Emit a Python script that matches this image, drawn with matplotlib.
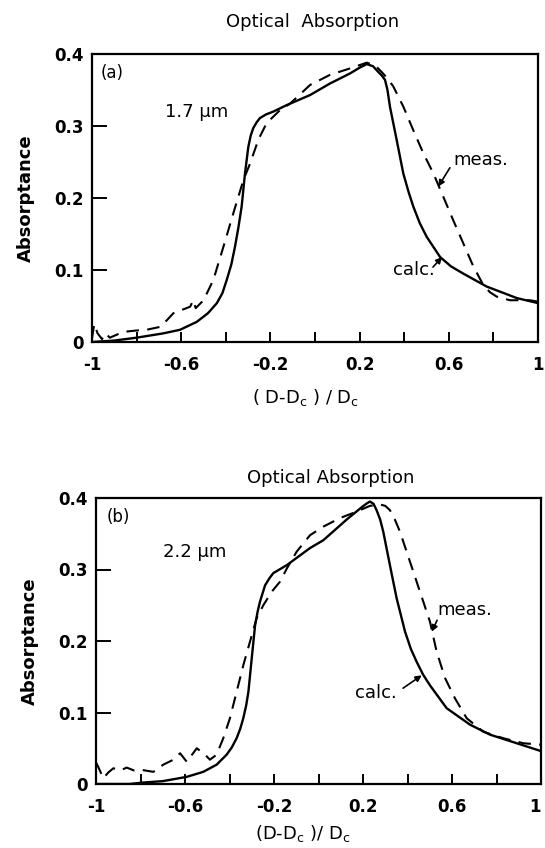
import matplotlib
matplotlib.use('Agg')
import matplotlib.pyplot as plt

plt.rcParams['font.family'] = ['DejaVu Sans']
plt.rcParams['mathtext.default'] = 'regular'

# x ticks and labels (both panels)
x_ticks = [-1.0, -0.8, -0.6, -0.4, -0.2, 0.0, 0.2, 0.4, 0.6, 0.8, 1.0]
x_labels = ['-1', '', '-0.6', '', '-0.2', '', '0.2', '', '0.6', '', '1']
y_ticks = [0.0, 0.1, 0.2, 0.3, 0.4]
y_labels = ['0', '0.1', '0.2', '0.3', '0.4']

# panel (a) 1.7 um
calc_a_x = [-1.0, -0.9, -0.8, -0.68, -0.605, -0.53, -0.48, -0.44, -0.415, -0.396, -0.375, -0.359,
            -0.343, -0.329, -0.314, -0.299, -0.288, -0.277, -0.262, -0.247, -0.22, -0.187, -0.127,
            -0.022, 0.067, 0.157, 0.2, 0.232, 0.26, 0.284, 0.3, 0.314, 0.325, 0.336, 0.366,
            0.396, 0.42, 0.441, 0.47, 0.501, 0.561, 0.61, 0.665, 0.77, 0.905, 1.0]
calc_a_y = [0.0, 0.002, 0.006, 0.012, 0.017, 0.028, 0.040, 0.054, 0.068, 0.086, 0.108, 0.132,
            0.160, 0.188, 0.234, 0.271, 0.287, 0.297, 0.305, 0.311, 0.316, 0.320, 0.329,
            0.343, 0.359, 0.373, 0.381, 0.386, 0.383, 0.375, 0.370, 0.364, 0.350, 0.327, 0.281,
            0.234, 0.208, 0.188, 0.165, 0.146, 0.118, 0.105, 0.095, 0.077, 0.061, 0.054]
meas_a_x = [-1.0, -0.99, -0.975, -0.955, -0.94, -0.92, -0.89, -0.86, -0.80, -0.755, -0.695, -0.665,
            -0.635, -0.56, -0.546, -0.535, -0.50, -0.456, -0.411, -0.366, -0.321, -0.291, -0.254,
            -0.217, -0.157, -0.112, -0.022, 0.067, 0.157, 0.232, 0.27, 0.299, 0.325, 0.351, 0.396,
            0.441, 0.486, 0.531, 0.575, 0.62, 0.665, 0.71, 0.755, 0.785, 0.815, 0.874, 0.964, 1.0]
meas_a_y = [0.005, 0.025, 0.012, 0.004, 0.012, 0.006, 0.010, 0.014, 0.016, 0.017, 0.021, 0.030,
            0.040, 0.049, 0.058, 0.047, 0.058, 0.086, 0.132, 0.179, 0.225, 0.248, 0.281,
            0.304, 0.322, 0.331, 0.357, 0.371, 0.380, 0.388, 0.384, 0.375, 0.366, 0.355, 0.327,
            0.294, 0.262, 0.234, 0.202, 0.169, 0.137, 0.105, 0.079, 0.069, 0.063, 0.058, 0.058, 0.056]

# panel (b) 2.2 um
calc_b_x = [-1.0, -0.85, -0.79, -0.70, -0.592, -0.518, -0.458, -0.413, -0.39, -0.368, -0.352, -0.338,
            -0.325, -0.315, -0.30, -0.285, -0.273, -0.263, -0.25, -0.24, -0.22, -0.203, -0.143,
            -0.038, 0.022, 0.127, 0.194, 0.215, 0.231, 0.247, 0.261, 0.277, 0.291, 0.321, 0.351,
            0.389, 0.415, 0.441, 0.47, 0.501, 0.576, 0.681, 0.771, 0.891, 1.0]
calc_b_y = [0.0, 0.0, 0.002, 0.004, 0.010, 0.017, 0.027, 0.041, 0.051, 0.064, 0.077, 0.092,
            0.110, 0.129, 0.176, 0.222, 0.242, 0.255, 0.268, 0.278, 0.288, 0.295, 0.306,
            0.330, 0.341, 0.370, 0.387, 0.392, 0.395, 0.392, 0.383, 0.370, 0.353, 0.306, 0.260,
            0.213, 0.189, 0.171, 0.153, 0.138, 0.106, 0.083, 0.069, 0.057, 0.046]
meas_b_x = [-1.0, -0.99, -0.967, -0.945, -0.922, -0.89, -0.862, -0.83, -0.80, -0.742, -0.698, -0.652,
            -0.622, -0.592, -0.547, -0.51, -0.488, -0.458, -0.428, -0.398, -0.368, -0.338, -0.308,
            -0.278, -0.248, -0.21, -0.173, -0.143, -0.098, -0.038, 0.022, 0.097, 0.172, 0.231, 0.276,
            0.3, 0.321, 0.343, 0.366, 0.411, 0.456, 0.501, 0.531, 0.569, 0.613, 0.666, 0.741, 0.831,
            0.921, 1.0]
meas_b_y = [0.030, 0.024, 0.008, 0.016, 0.022, 0.019, 0.023, 0.019, 0.020, 0.017, 0.027, 0.034,
            0.043, 0.031, 0.050, 0.041, 0.034, 0.041, 0.064, 0.092, 0.129, 0.166, 0.199,
            0.232, 0.250, 0.269, 0.283, 0.301, 0.325, 0.348, 0.360, 0.372, 0.381, 0.389, 0.391,
            0.389, 0.383, 0.370, 0.353, 0.311, 0.269, 0.227, 0.185, 0.148, 0.120, 0.092, 0.073, 0.064,
            0.057, 0.055]

W, H = 545, 848
fig = plt.figure(figsize=(W / 100, H / 100), dpi=100)

def px_rect(l, t, r, b):
    return [l / W, 1 - b / H, (r - l) / W, (b - t) / H]

ax_a = fig.add_axes(px_rect(92, 54, 538, 342))
ax_b = fig.add_axes(px_rect(96, 498, 541, 784))

panels = [
    (ax_a, calc_a_x, calc_a_y, meas_a_x, meas_a_y, '(a)', '1.7 μm', (-0.96, 0.373), (-0.673, 0.319),
     (0.62, 0.253), (0.605, 0.242), (0.553, 0.216),
     (0.35, 0.10), (0.529, 0.104), (0.57, 0.118)),
    (ax_b, calc_b_x, calc_b_y, meas_b_x, meas_b_y, '(b)', '2.2 μm', (-0.95, 0.374), (-0.699, 0.325),
     (0.533, 0.243), (0.533, 0.229), (0.509, 0.213),
     (0.164, 0.127), (0.38, 0.134), (0.464, 0.152)),
]

for (ax, cx, cy, mx, my, tag, wl, tag_xy, wl_xy,
     meas_xy, meas_tail, meas_head, calc_xy, calc_tail, calc_head) in panels:
    ax.plot(cx, cy, color='black', lw=1.7, solid_joinstyle='round')
    ax.plot(mx, my, color='black', lw=1.5, dashes=(6, 4))
    ax.set_xlim(-1, 1)
    ax.set_ylim(0, 0.4)
    ax.set_xticks(x_ticks, x_labels)
    ax.set_yticks(y_ticks, y_labels)
    ax.tick_params(axis='both', direction='in', width=1.4, labelsize=12, colors='black')
    ax.tick_params(axis='x', length=7, pad=10)
    ax.tick_params(axis='y', length=11, pad=6)
    for lab in ax.get_xticklabels() + ax.get_yticklabels():
        lab.set_fontweight('bold')
    for s in ax.spines.values():
        s.set_linewidth(1.6)
    ax.set_ylabel('Absorptance', fontsize=13, fontweight='bold', labelpad=14)
    ax.text(tag_xy[0], tag_xy[1], tag, fontsize=12, va='center', ha='left')
    ax.text(wl_xy[0], wl_xy[1], wl, fontsize=13, va='center', ha='left')
    ax.text(meas_xy[0], meas_xy[1], 'meas.', fontsize=13, va='center', ha='left')
    ax.text(calc_xy[0], calc_xy[1], 'calc.', fontsize=13, va='center', ha='left')
    arrow = dict(arrowstyle='-|>', color='black', lw=1.2, mutation_scale=9, shrinkA=0, shrinkB=0)
    ax.annotate('', xy=meas_head, xytext=meas_tail, arrowprops=arrow)
    ax.annotate('', xy=calc_head, xytext=calc_tail, arrowprops=arrow)

# last tick label of panel (b) sits at the figure edge; keep it inside
ax_b.get_xticklabels()[-1].set_horizontalalignment('right')

fig.text(313 / W, 1 - 22 / H, 'Optical  Absorption', fontsize=13, ha='center', va='center')
fig.text(331 / W, 1 - 478 / H, 'Optical Absorption', fontsize=13, ha='center', va='center')
fig.text(306 / W, 1 - 398 / H, r'( D-D$_{c}$ ) / D$_{c}$', fontsize=13, ha='center', va='center')
fig.text(303 / W, 1 - 834 / H, r'(D-D$_{c}$ )/ D$_{c}$', fontsize=13, ha='center', va='center')

fig.savefig('out.png', dpi=100)
